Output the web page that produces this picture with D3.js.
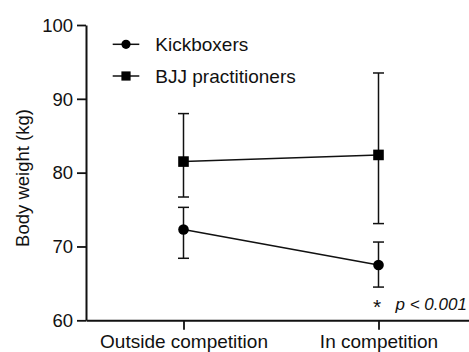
<!DOCTYPE html>
<html><head><meta charset="utf-8">
<script src="https://cdn.jsdelivr.net/npm/d3@7"></script>
<style>html,body{margin:0;padding:0;background:#fff;}svg{display:block;font-family:"Liberation Sans",Arial,sans-serif;}</style>
</head><body>
<svg id="c" width="469" height="352"></svg>
<script>
const categories = ["Outside competition", "In competition"];
const seriesNames = ["Kickboxers", "BJJ practitioners"];
const kickMean = [72.3, 67.5];
const kickUpper = [75.3, 70.6];
const kickLower = [68.4, 64.5];
const bjjMean = [81.5, 82.4];
const bjjUpper = [88.0, 93.5];
const bjjLower = [76.7, 73.1];
const yTicks = [60, 70, 80, 90, 100];
const yLabel = "Body weight (kg)";
const annotation = "p < 0.001";

const svg = d3.select("#c");
const x = d3.scalePoint().domain(categories).range([86, 476]).padding(0.5);
const y = d3.scaleLinear().domain([60, 100]).range([320.3, 25]);
const ink = "#111";

// axes
const yAxis = d3.axisLeft(y).tickValues(yTicks).tickSize(9).tickPadding(4).tickSizeOuter(0);
const gy = svg.append("g").attr("transform", "translate(86,0)").call(yAxis);
gy.select(".domain").attr("stroke", ink).attr("stroke-width", 2);
gy.selectAll(".tick line").attr("stroke", ink).attr("stroke-width", 1.8);
gy.selectAll(".tick text").attr("fill", ink).style("font-size", "18.5px").attr("dy", "0.34em");

const xAxis = d3.axisBottom(x).tickSize(9.5).tickPadding(5).tickSizeOuter(0);
const gx = svg.append("g").attr("transform", "translate(0,320.3)").call(xAxis);
gx.select(".domain").attr("stroke", ink).attr("stroke-width", 2);
gx.selectAll(".tick line").attr("stroke", ink).attr("stroke-width", 1.8);
gx.selectAll(".tick text").attr("fill", ink).style("font-size", "19px").attr("dy", "0.71em");

// y label
svg.append("text").attr("transform", "translate(29," + 178 + ") rotate(-90)")
  .attr("text-anchor", "middle").style("font-size", "18.5px").attr("fill", ink).text(yLabel);

const series = [
  {name: seriesNames[0], mean: kickMean, up: kickUpper, lo: kickLower, shape: "circle"},
  {name: seriesNames[1], mean: bjjMean, up: bjjUpper, lo: bjjLower, shape: "square"}
];

const line = d3.line().x((d, i) => x(categories[i])).y(d => y(d));
series.forEach(s => {
  const g = svg.append("g");
  g.append("path").attr("d", line(s.mean)).attr("fill", "none").attr("stroke", ink).attr("stroke-width", 1.5);
  categories.forEach((c, i) => {
    const cx = x(c);
    g.append("line").attr("x1", cx).attr("x2", cx).attr("y1", y(s.up[i])).attr("y2", y(s.lo[i]))
      .attr("stroke", ink).attr("stroke-width", 1.5);
    [s.up[i], s.lo[i]].forEach(v => {
      g.append("line").attr("x1", cx - 5.5).attr("x2", cx + 5.5).attr("y1", y(v)).attr("y2", y(v))
        .attr("stroke", ink).attr("stroke-width", 1.5);
    });
    if (s.shape === "circle") {
      g.append("circle").attr("cx", cx).attr("cy", y(s.mean[i])).attr("r", 5.3).attr("fill", "#000");
    } else {
      g.append("rect").attr("x", cx - 5.3).attr("y", y(s.mean[i]) - 5.3).attr("width", 10.6).attr("height", 10.6).attr("fill", "#000");
    }
  });
});

// legend
const legY = [44.3, 76];
series.forEach((s, i) => {
  const g = svg.append("g").attr("transform", "translate(0," + legY[i] + ")");
  g.append("line").attr("x1", 112.7).attr("x2", 139.3).attr("y1", 0).attr("y2", 0).attr("stroke", ink).attr("stroke-width", 1.5);
  if (s.shape === "circle") g.append("circle").attr("cx", 126).attr("cy", 0).attr("r", 4.6).attr("fill", "#000");
  else g.append("rect").attr("x", 121.4).attr("y", -4.6).attr("width", 9.2).attr("height", 9.2).attr("fill", "#000");
  g.append("text").attr("x", 155.3).attr("y", 0).attr("dy", "0.36em").style("font-size", "19px").attr("fill", ink).text(s.name);
});

// annotation
const ax = x(categories[1]);
svg.append("text").attr("x", ax - 1.5).attr("y", 314).attr("text-anchor", "middle").style("font-size", "21px").attr("fill", ink).text("*");
svg.append("text").attr("x", 395.5).attr("y", 310).style("font-size", "17px").style("font-style", "italic").attr("fill", ink).text(annotation);
</script>
</body></html>
